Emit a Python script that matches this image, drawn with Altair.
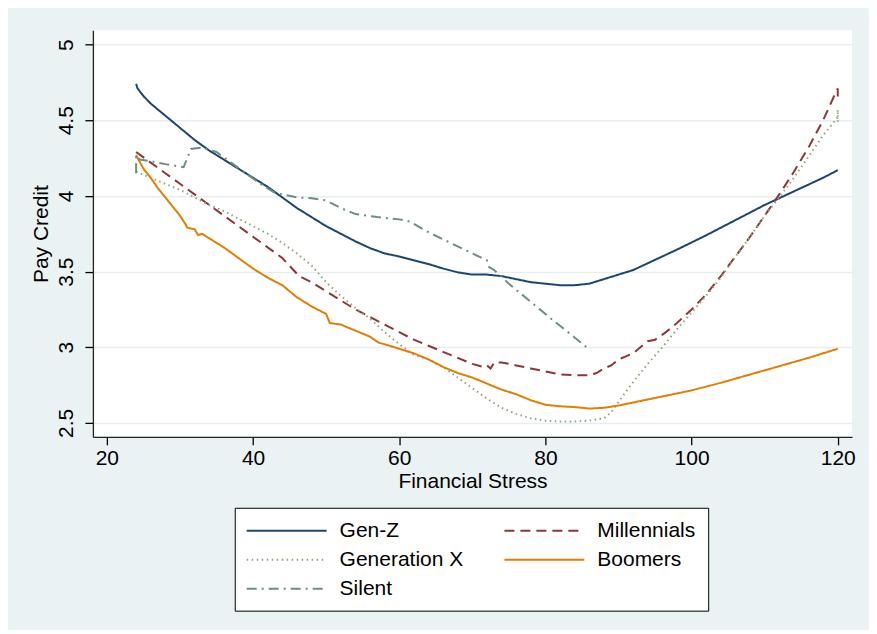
import altair as alt
import pandas as pd

# ---- data ----
# legend order (column-major): Gen-Z, Generation X, Silent | Millennials, Boomers
series_names = ["Gen-Z", "Generation X", "Silent", "Millennials", "Boomers"]
series_colors = ["#1a476f", "#8fa676", "#6e8e84", "#90353b", "#e37e00"]
series_dashes = [[1, 0], [1.5, 3.5], [10, 5, 2, 5], [10, 6], [1, 0]]

genz_x = [24, 24.2, 25, 26, 28, 30, 32, 34, 36, 38, 40, 42, 44, 46, 48, 50, 52, 54, 56, 58,
          60, 62, 64, 66, 68, 70, 72, 74, 76, 78, 80, 82, 84, 86, 88, 90, 92, 94, 96, 98,
          102, 106, 110, 114, 118, 120]
genz_y = [4.74, 4.71, 4.66, 4.61, 4.53, 4.45, 4.37, 4.30, 4.24, 4.18, 4.12, 4.06, 3.99, 3.92,
          3.86, 3.80, 3.75, 3.70, 3.655, 3.62, 3.60, 3.575, 3.55, 3.52, 3.495, 3.48, 3.48, 3.47,
          3.45, 3.43, 3.42, 3.41, 3.41, 3.42, 3.45, 3.48, 3.51, 3.555, 3.60, 3.645, 3.74, 3.84,
          3.94, 4.03, 4.12, 4.17]

mill_x = [24, 26, 28, 30, 32, 34, 36, 38, 40, 42, 44, 46.3, 48, 50, 52, 54, 56, 58, 60, 62,
          64, 66, 68, 70, 71.5, 72, 72.5, 73, 74, 76, 78, 80, 82, 84, 86, 87, 88, 89, 90, 91,
          92, 94, 95, 96.5, 98, 100, 102, 104, 106, 108, 110, 112, 114, 116, 118, 119.5, 120, 120]
mill_y = [4.29, 4.22, 4.15, 4.08, 4.01, 3.94, 3.87, 3.80, 3.73, 3.66, 3.59, 3.47, 3.43, 3.37,
          3.31, 3.25, 3.20, 3.15, 3.10, 3.05, 3.01, 2.97, 2.93, 2.89, 2.87, 2.88, 2.86, 2.90,
          2.90, 2.88, 2.86, 2.84, 2.82, 2.815, 2.815, 2.83, 2.86, 2.88, 2.92, 2.94, 2.96, 3.04,
          3.05, 3.10, 3.16, 3.25, 3.35, 3.47, 3.60, 3.73, 3.87, 4.01, 4.16, 4.32, 4.50, 4.66,
          4.71, 4.64]

genx_x = [24, 26, 28, 30, 32, 34, 36, 38, 40, 42, 44, 46, 48, 50, 52, 54, 56, 58, 60, 62,
          64, 66, 68, 70, 72, 74, 76, 78, 80, 82, 84, 86, 88, 89, 90, 92, 94, 96, 98, 100,
          102, 104, 106, 108, 110, 112, 114, 116, 118, 120, 120, 120]
genx_y = [4.16, 4.12, 4.08, 4.04, 3.99, 3.94, 3.90, 3.85, 3.80, 3.75, 3.69, 3.62, 3.54, 3.43,
          3.34, 3.26, 3.19, 3.10, 3.02, 2.95, 2.92, 2.87, 2.80, 2.73, 2.66, 2.60, 2.56, 2.53,
          2.515, 2.51, 2.51, 2.515, 2.53, 2.57, 2.64, 2.77, 2.89, 3.00, 3.12, 3.23, 3.34, 3.46,
          3.60, 3.73, 3.87, 3.99, 4.12, 4.26, 4.40, 4.52, 4.57, 4.47]

boom_x = [24, 25, 26, 27, 28, 29, 30, 30.8, 31, 32, 32.5, 33, 34, 36, 38, 40, 42, 44, 46, 48,
          50, 50.5, 52, 54, 56, 57.2, 58, 60, 62, 64, 66, 68, 70, 72, 74, 76, 78, 80, 82, 84,
          86, 88, 90, 92, 94, 96, 98, 100, 104, 108, 112, 116, 120]
boom_y = [4.27, 4.18, 4.12, 4.05, 3.99, 3.93, 3.87, 3.81, 3.79, 3.78, 3.74, 3.75, 3.72, 3.66,
          3.59, 3.52, 3.46, 3.41, 3.33, 3.27, 3.22, 3.16, 3.15, 3.11, 3.07, 3.03, 3.02, 2.99,
          2.96, 2.92, 2.87, 2.83, 2.80, 2.76, 2.72, 2.69, 2.65, 2.62, 2.61, 2.605, 2.595, 2.60,
          2.615, 2.635, 2.655, 2.675, 2.695, 2.715, 2.765, 2.82, 2.875, 2.93, 2.99]

silent_x = [24, 24, 24.5, 26, 28, 30.5, 31.5, 33, 35, 37, 39, 41, 43, 46, 48, 50, 52, 54, 57,
            60, 61.5, 64, 67, 70, 72, 72.3, 73, 75, 78, 81, 84, 86]
silent_y = [4.15, 4.27, 4.24, 4.23, 4.21, 4.19, 4.31, 4.32, 4.29, 4.22, 4.15, 4.08, 4.02, 3.99,
            3.985, 3.97, 3.92, 3.88, 3.86, 3.845, 3.83, 3.76, 3.69, 3.62, 3.575, 3.53, 3.51,
            3.42, 3.30, 3.18, 3.065, 2.985]

x_ticks = [20, 40, 60, 80, 100, 120]
y_ticks = [2.5, 3, 3.5, 4, 4.5, 5]

# ---- build long table ----
rows = []
for name, xs, ys in [("Gen-Z", genz_x, genz_y), ("Millennials", mill_x, mill_y),
                     ("Generation X", genx_x, genx_y), ("Boomers", boom_x, boom_y),
                     ("Silent", silent_x, silent_y)]:
    for i, (a, b) in enumerate(zip(xs, ys)):
        rows.append({"series": name, "stress": a, "pay": b, "order": i})
df = pd.DataFrame(rows)

FONT = "Liberation Sans"

legend = alt.Legend(
    title=None, orient="none", legendX=142, legendY=478, columns=2,
    direction="vertical",
    symbolType="M-4,0H4", symbolSize=400, symbolStrokeWidth=2, symbolOffset=29,
    labelFontSize=21, labelFont=FONT, labelColor="black", labelOffset=42,
    padding=12, rowPadding=8, columnPadding=37,
    strokeColor="black", fillColor="white", labelLimit=300,
)

chart = alt.Chart(df).mark_line(strokeWidth=2, strokeCap="butt").encode(
    x=alt.X("stress:Q",
            scale=alt.Scale(domain=[18.09, 121.95], nice=False, zero=False),
            axis=alt.Axis(values=x_ticks, title="Financial Stress", grid=False,
                          tickSize=8, tickColor="black", tickWidth=1.3,
                          domainColor="#222", domainWidth=1.3,
                          labelFont=FONT, labelFontSize=21, labelColor="black",
                          labelPadding=3, titleFont=FONT, titleFontSize=21,
                          titleFontWeight="normal", titleColor="black", titlePadding=2)),
    y=alt.Y("pay:Q",
            scale=alt.Scale(domain=[2.408, 5.094], nice=False, zero=False),
            axis=alt.Axis(values=y_ticks, format="~g", title="Pay Credit", grid=True,
                          gridColor="#E6EEF1", gridWidth=1.5,
                          tickSize=8, tickColor="black", tickWidth=1.3,
                          domainColor="#222", domainWidth=1.3,
                          labelAngle=270, labelAlign="center", labelBaseline="bottom",
                          labelFont=FONT, labelFontSize=21, labelColor="black",
                          labelPadding=8, titleFont=FONT, titleFontSize=21,
                          titleFontWeight="normal", titleColor="black", titlePadding=4)),
    color=alt.Color("series:N",
                    scale=alt.Scale(domain=series_names, range=series_colors),
                    legend=legend),
    strokeDash=alt.StrokeDash("series:N",
                              scale=alt.Scale(domain=series_names, range=series_dashes),
                              legend=legend),
    order=alt.Order("order:Q"),
).properties(
    width=760, height=407,
    autosize=alt.AutoSizeParams(type="none"),
    padding={"left": 85, "top": 22, "right": 17, "bottom": 193},
    background="#EAF2F3",
).configure_view(
    stroke=None, fill="white"
)

chart.save("out.html", embed_options={"renderer": "svg", "actions": False})
